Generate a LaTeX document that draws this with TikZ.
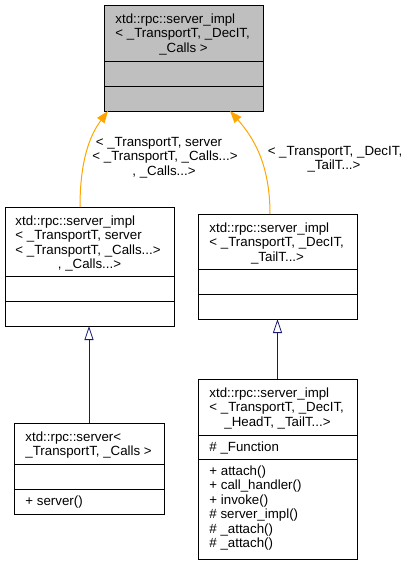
\documentclass[tikz,border=0pt]{standalone}
\usepackage{fontspec}
\setmainfont{Liberation Sans}
\usetikzlibrary{arrows.meta}
\definecolor{tmplorange}{HTML}{FFA500}
\definecolor{inhnavy}{HTML}{191970}
\definecolor{basegrey}{HTML}{BFBFBF}
\tikzset{
  classbox/.style={draw=black, fill=white, inner sep=0pt, outer sep=0pt},
  txt/.style={anchor=base west, inner sep=0pt, font=\fontsize{13.3}{14.5}\selectfont},
  ctxt/.style={anchor=base, inner sep=0pt, font=\fontsize{13.3}{14.5}\selectfont},
  tmpl/.style={draw=tmplorange, line width=1pt, -{Triangle[length=12pt,width=9pt]}},
  inherit/.style={draw=inhnavy, line width=0.8pt, -{Triangle[open,length=14pt,width=9pt]}}
}
\begin{document}
\begin{tikzpicture}[x=1pt,y=-1pt,line width=0.9pt]
\useasboundingbox (0,0) rectangle (409,565);
\node[classbox, fill=basegrey, minimum width=159pt, minimum height=106pt] (base) at (183.5,58) {};
\draw (104,61) -- (263,61);
\draw (104,86) -- (263,86);
\node[txt] (base1) at (115,23) {xtd::rpc::server\_impl};
\node[txt] (base2) at (115,37.5) {< \_TransportT, \_DecIT,};
\node[ctxt] (base3) at (183.5,52) {\_Calls >};
\node[classbox, minimum width=169pt, minimum height=119pt] (viaserver) at (89.5,266.5) {};
\draw (5,276) -- (174,276);
\draw (5,301) -- (174,301);
\node[txt] (viaserver1) at (15,225) {xtd::rpc::server\_impl};
\node[txt] (viaserver2) at (15,239.5) {< \_TransportT, server};
\node[txt] (viaserver3) at (15,254) {< \_TransportT, \_Calls...>};
\node[ctxt] (viaserver4) at (89.5,268.5) {, \_Calls...>};
\node[classbox, minimum width=159pt, minimum height=105pt] (tail) at (277.5,266.5) {};
\draw (198,269) -- (357,269);
\draw (198,294) -- (357,294);
\node[txt] (tail1) at (209,232) {xtd::rpc::server\_impl};
\node[txt] (tail2) at (209,246.5) {< \_TransportT, \_DecIT,};
\node[ctxt] (tail3) at (277.5,261) {\_TailT...>};
\node[classbox, minimum width=150pt, minimum height=91pt] (server) at (89,468.5) {};
\draw (14,464) -- (164,464);
\draw (14,489) -- (164,489);
\node[txt] (server1) at (25,441) {xtd::rpc::server<};
\node[txt] (server2) at (25,455.5) {\_TransportT, \_Calls >};
\node[txt] (server3) at (25,505) {+ server()};
\node[classbox, minimum width=159pt, minimum height=180pt] (headtail) at (277.5,469) {};
\draw (198,435) -- (357,435);
\draw (198,459) -- (357,459);
\node[txt] (headtail1) at (209,397) {xtd::rpc::server\_impl};
\node[txt] (headtail2) at (209,411.5) {< \_TransportT, \_DecIT,};
\node[ctxt] (headtail3) at (277.5,426) {\_HeadT, \_TailT...>};
\node[txt] (headtail4) at (209,451) {\# \_Function};
\node[txt] (headtail5) at (209,475) {+ attach()};
\node[txt] (headtail6) at (209,489.5) {+ call\_handler()};
\node[txt] (headtail7) at (209,504) {+ invoke()};
\node[txt] (headtail8) at (209,518.5) {\# server\_impl()};
\node[txt] (headtail9) at (209,533) {\# \_attach()};
\node[txt] (headtail10) at (209,547.5) {\# \_attach()};
\draw[tmpl] ([xshift=-9.5pt]viaserver.north) .. controls +(0,-47) and +(-18,24) .. ([xshift=-75.5pt]base.south);
\draw[tmpl] ([xshift=-7.5pt]tail.north) .. controls +(0,-49) and +(24,27) .. ([xshift=46.5pt]base.south);
\node[ctxt] (lbl1a) at (159,146) {< \_TransportT, server};
\node[ctxt] (lbl1b) at (165,160.5) {< \_TransportT, \_Calls...>};
\node[ctxt] (lbl1c) at (164,175) {, \_Calls...>};
\node[ctxt] (lbl2a) at (335,155) {< \_TransportT, \_DecIT,};
\node[ctxt] (lbl2b) at (334,169) {\_TailT...>};
\draw[inherit] (server.north) -- (server.north |- viaserver.south);
\draw[inherit] (headtail.north) -- (tail.south);
\end{tikzpicture}
\end{document}
